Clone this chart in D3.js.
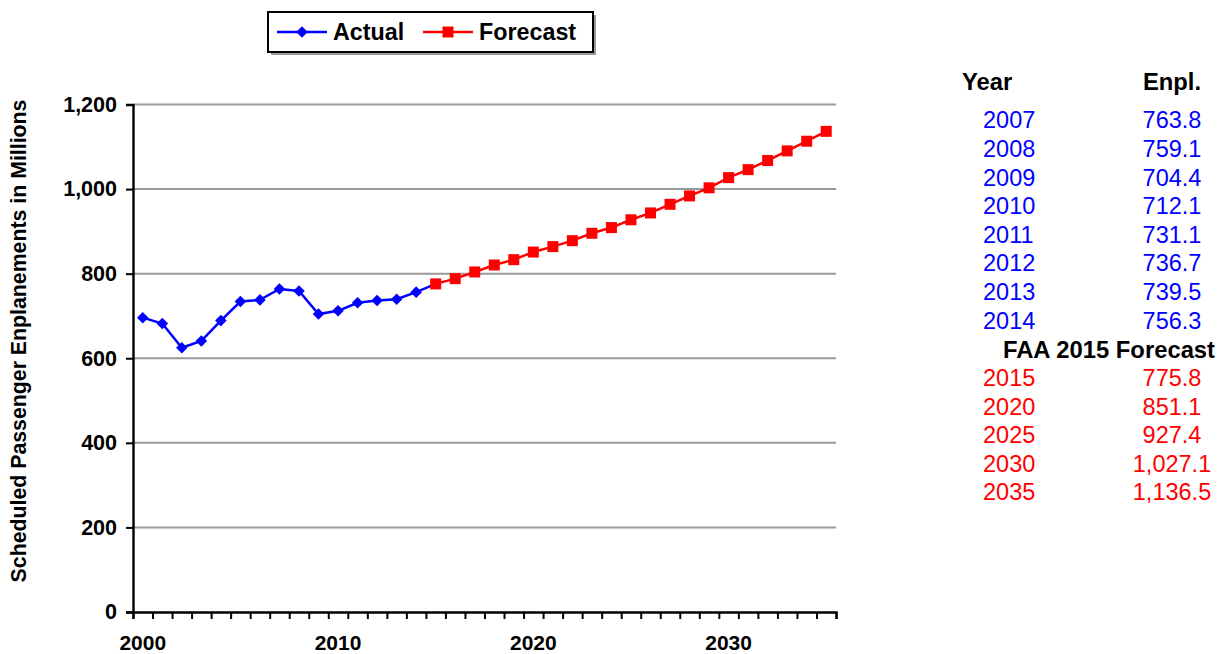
<!DOCTYPE html>
<html>
<head>
<meta charset="utf-8">
<script src="https://cdn.jsdelivr.net/npm/d3@7"></script>
<style>
  html, body { margin: 0; padding: 0; background: #fff; }
  svg { display: block; font-family: "Liberation Sans", Arial, sans-serif; }
</style>
</head>
<body>
<svg id="chart" width="1220" height="654"></svg>
<script>
// Scheduled passenger enplanements (millions), actual and FAA 2015 forecast
const actualYears = [2000, 2001, 2002, 2003, 2004, 2005, 2006, 2007, 2008, 2009, 2010, 2011, 2012, 2013, 2014];
const actualValues = [696, 682, 625, 641, 689, 734, 738, 763.8, 759.1, 704.4, 712.1, 731.1, 736.7, 739.5, 756.3];

const forecastYears = [2015, 2016, 2017, 2018, 2019, 2020, 2021, 2022, 2023, 2024, 2025,
                       2026, 2027, 2028, 2029, 2030, 2031, 2032, 2033, 2034, 2035];
const forecastValues = [775.8, 788.2, 804, 820.5, 833.1, 851.1, 864, 878, 895.5, 909, 927.4,
                        943.6, 964, 983.8, 1003, 1027.1, 1046, 1067.5, 1090.3, 1113.2, 1136.5];

const yTicks = [0, 200, 400, 600, 800, 1000, 1200];
const xLabelYears = [2000, 2010, 2020, 2030];
const firstYear = 2000, lastYear = 2035;

// Side table
const tableActualYears = ["2007", "2008", "2009", "2010", "2011", "2012", "2013", "2014"];
const tableActualValues = ["763.8", "759.1", "704.4", "712.1", "731.1", "736.7", "739.5", "756.3"];
const tableForecastYears = ["2015", "2020", "2025", "2030", "2035"];
const tableForecastValues = ["775.8", "851.1", "927.4", "1,027.1", "1,136.5"];

const BLUE = "#0000ff", RED = "#ff0000";

const svg = d3.select("#chart");

const x = d3.scaleLinear().domain([firstYear - 0.5, lastYear + 0.5]).range([133, 836]);
const y = d3.scaleLinear().domain([0, 1200]).range([612, 104.5]);

// Gridlines
svg.append("g")
  .selectAll("line")
  .data(yTicks.filter(d => d > 0))
  .join("line")
  .attr("x1", x.range()[0]).attr("x2", x.range()[1])
  .attr("y1", d => y(d)).attr("y2", d => y(d))
  .attr("stroke", "#999").attr("stroke-width", 2);

// Y axis
const yAxis = svg.append("g")
  .attr("transform", `translate(${x.range()[0]},0)`)
  .call(d3.axisLeft(y).tickValues(yTicks).tickSize(7).tickPadding(9)
        .tickFormat(d3.format(",")));
yAxis.select(".domain").attr("stroke", "#000").attr("stroke-width", 2.4);
yAxis.selectAll(".tick line").attr("stroke", "#000").attr("stroke-width", 2);
yAxis.selectAll(".tick text")
  .attr("font-size", 21.5).attr("font-weight", "bold").attr("fill", "#000")
  .attr("font-family", "'Liberation Sans', Arial, sans-serif");

// X axis: ticks on category boundaries
const boundaries = d3.range(firstYear - 0.5, lastYear + 1, 1);
const xAxis = svg.append("g")
  .attr("transform", `translate(0,${y(0)})`)
  .call(d3.axisBottom(x).tickValues(boundaries).tickSize(7).tickFormat(""));
xAxis.select(".domain").attr("stroke", "#000").attr("stroke-width", 2.4);
xAxis.selectAll(".tick line").attr("stroke", "#000").attr("stroke-width", 2);

svg.append("g")
  .selectAll("text")
  .data(xLabelYears)
  .join("text")
  .attr("x", d => x(d)).attr("y", 650)
  .attr("text-anchor", "middle")
  .attr("font-size", 21).attr("font-weight", "bold")
  .text(d => d);

// Y axis title
svg.append("text")
  .attr("transform", `translate(26,${(100 + 582) / 2}) rotate(-90)`)
  .attr("text-anchor", "middle")
  .attr("font-size", 21.3).attr("font-weight", "bold")
  .text("Scheduled Passenger Enplanements in Millions");

// Series
const line = d3.line().x(d => x(d[0])).y(d => y(d[1]));
const actualPts = actualYears.map((yr, i) => [yr, actualValues[i]]);
const forecastPts = forecastYears.map((yr, i) => [yr, forecastValues[i]]);

svg.append("path")
  .datum(forecastPts)
  .attr("d", line)
  .attr("fill", "none").attr("stroke", RED).attr("stroke-width", 2.5);

// Actual line continues to the first forecast year
svg.append("path")
  .datum(actualPts.concat([forecastPts[0]]))
  .attr("d", line)
  .attr("fill", "none").attr("stroke", BLUE).attr("stroke-width", 2.5);

const diamond = d3.symbol().type(d3.symbolDiamond2).size(85);
svg.append("g")
  .selectAll("path")
  .data(actualPts)
  .join("path")
  .attr("transform", d => `translate(${x(d[0])},${y(d[1])})`)
  .attr("d", diamond)
  .attr("fill", BLUE);

svg.append("g")
  .selectAll("rect")
  .data(forecastPts)
  .join("rect")
  .attr("x", d => x(d[0]) - 5.5).attr("y", d => y(d[1]) - 5.5)
  .attr("width", 11).attr("height", 11)
  .attr("fill", RED);

// Legend
const legend = svg.append("g");
legend.append("rect")
  .attr("x", 271).attr("y", 15).attr("width", 325).attr("height", 40)
  .attr("fill", "#999");
legend.append("rect")
  .attr("x", 268).attr("y", 12).attr("width", 325).attr("height", 40)
  .attr("fill", "#fff").attr("stroke", "#000").attr("stroke-width", 2);

legend.append("line")
  .attr("x1", 277).attr("x2", 327).attr("y1", 32).attr("y2", 32)
  .attr("stroke", BLUE).attr("stroke-width", 2.5);
legend.append("path")
  .attr("transform", "translate(302,32)")
  .attr("d", diamond).attr("fill", BLUE);
legend.append("text")
  .attr("x", 333).attr("y", 40)
  .attr("font-size", 23.3).attr("font-weight", "bold")
  .text("Actual");

legend.append("line")
  .attr("x1", 423).attr("x2", 473).attr("y1", 32).attr("y2", 32)
  .attr("stroke", RED).attr("stroke-width", 2.5);
legend.append("rect")
  .attr("x", 442.5).attr("y", 26.5).attr("width", 11).attr("height", 11)
  .attr("fill", RED);
legend.append("text")
  .attr("x", 479).attr("y", 40)
  .attr("font-size", 23.3).attr("font-weight", "bold")
  .text("Forecast");

// Side table
const table = svg.append("g").attr("font-size", 23.5);
const yearX = 983, valueX = 1172, rowStep = 28.6;

table.append("text").attr("x", 962).attr("y", 90)
  .attr("font-weight", "bold").attr("font-size", 23.8).text("Year");
table.append("text").attr("x", valueX).attr("y", 90)
  .attr("text-anchor", "middle").attr("font-weight", "bold").attr("font-size", 23.8).text("Enpl.");

tableActualYears.forEach((yr, i) => {
  const by = 128.3 + i * rowStep;
  table.append("text").attr("x", yearX).attr("y", by).attr("fill", BLUE).text(yr);
  table.append("text").attr("x", valueX).attr("y", by).attr("text-anchor", "middle")
    .attr("fill", BLUE).text(tableActualValues[i]);
});

table.append("text").attr("x", 1109).attr("y", 357.7)
  .attr("text-anchor", "middle").attr("font-weight", "bold").attr("font-size", 23.8)
  .text("FAA 2015 Forecast");

tableForecastYears.forEach((yr, i) => {
  const by = 386 + i * 28.5;
  table.append("text").attr("x", yearX).attr("y", by).attr("fill", RED).text(yr);
  table.append("text").attr("x", valueX).attr("y", by).attr("text-anchor", "middle")
    .attr("fill", RED).text(tableForecastValues[i]);
});
</script>
</body>
</html>
